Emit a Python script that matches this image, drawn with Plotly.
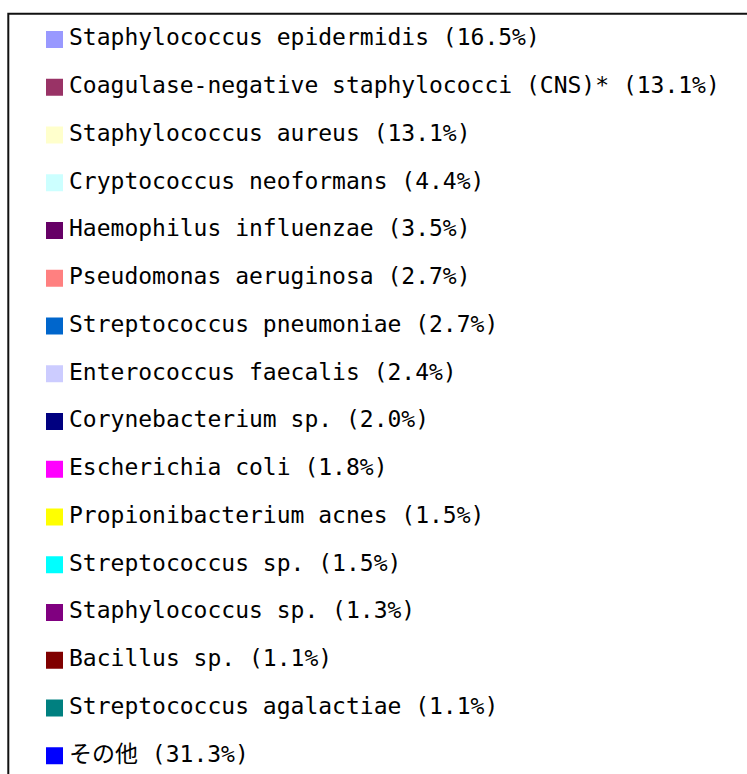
import plotly.graph_objects as go

names = [
    "Staphylococcus epidermidis",
    "Coagulase-negative staphylococci (CNS)*",
    "Staphylococcus aureus",
    "Cryptococcus neoformans",
    "Haemophilus influenzae",
    "Pseudomonas aeruginosa",
    "Streptococcus pneumoniae",
    "Enterococcus faecalis",
    "Corynebacterium sp.",
    "Escherichia coli",
    "Propionibacterium acnes",
    "Streptococcus sp.",
    "Staphylococcus sp.",
    "Bacillus sp.",
    "Streptococcus agalactiae",
    "その他",
]
percents = [16.5, 13.1, 13.1, 4.4, 3.5, 2.7, 2.7, 2.4, 2.0, 1.8, 1.5, 1.5, 1.3, 1.1, 1.1, 31.3]
colors = [
    "#9999FF", "#993366", "#FFFFCC", "#CCFFFF", "#660066", "#FF8080",
    "#0066CC", "#CCCCFF", "#000080", "#FF00FF", "#FFFF00", "#00FFFF",
    "#800080", "#800000", "#008080", "#0000FF",
]

W, H = 747, 774
row_px = 47.75
first_px = 39.5
sq_x = 54.5

rows = list(range(len(names)))
labels = [f"{n} ({p:.1f}%)" for n, p in zip(names, percents)]

y0 = -first_px / row_px
y1 = y0 + H / row_px

fig = go.Figure()
fig.add_trace(go.Scatter(
    x=[0] * len(rows), y=rows, mode="markers",
    marker=dict(symbol="square", size=17, color=colors, line=dict(width=0)),
    showlegend=False, hoverinfo="skip",
))
fig.add_trace(go.Scatter(
    x=[14.5] * len(rows), y=rows, mode="text", text=labels,
    textposition="middle right",
    textfont=dict(family="DejaVu Sans Mono, Noto Sans CJK JP", size=23, color="#000000"),
    showlegend=False, hoverinfo="skip",
))

fig.add_shape(type="rect", xref="x", yref="y",
              x0=8.3 - sq_x, x1=900, y0=y0 + 13.7 / row_px, y1=y1 + 5,
              line=dict(color="#111111", width=2), fillcolor="rgba(0,0,0,0)")

fig.update_xaxes(range=[-sq_x, W - sq_x], visible=False, fixedrange=True)
fig.update_yaxes(range=[y1, y0], visible=False, fixedrange=True)
fig.update_layout(
    width=W, height=H, margin=dict(l=0, r=0, t=0, b=0),
    paper_bgcolor="white", plot_bgcolor="white",
)
fig.write_html(
    "out.html",
    config={"displayModeBar": False},
    post_script="document.body.style.margin='0';document.body.style.overflow='hidden';document.documentElement.style.overflow='hidden';",
)
